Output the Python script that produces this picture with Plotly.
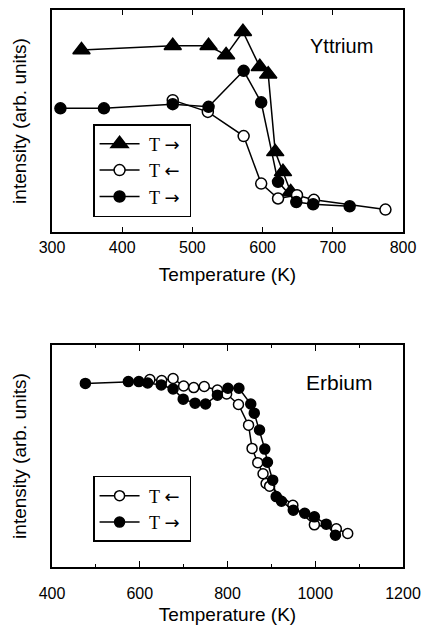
import plotly.graph_objects as go

# ---------------- Yttrium (top) ----------------
y_tri_T = [342, 472, 523, 548, 572, 596, 608, 618, 629, 640]
y_tri_I = [82.0, 83.9, 83.9, 79.7, 90.2, 74.4, 71.1, 36.1, 27.1, 18.0]

y_open_T = [472, 522, 573, 598, 622, 649, 673, 775]
y_open_I = [59.4, 54.1, 43.2, 21.8, 15.1, 16.6, 14.5, 10.1]

y_fill_T = [312, 374, 472, 523, 573, 598, 622, 648, 672, 724]
y_fill_I = [55.7, 55.7, 57.6, 56.4, 72.6, 58.4, 22.6, 13.5, 12.5, 11.6]

# ---------------- Erbium (bottom) ----------------
e_fill_T = [476, 574, 598, 618, 649, 676, 699, 726, 750, 777, 801, 826, 853,
            861, 873, 885, 891, 903, 911, 923, 950, 976, 998, 1025, 1046]
e_fill_I = [82.7, 83.5, 83.5, 82.9, 82.0, 80.2, 75.6, 73.8, 73.4, 77.4, 80.5,
            80.5, 73.4, 69.3, 61.7, 53.1, 47.2, 39.1, 31.7, 29.6, 25.6, 24.2,
            22.6, 19.3, 14.3]

e_open_T = [623, 650, 676, 700, 723, 747, 777, 798, 825, 848, 856, 869, 881,
            888, 896, 949, 998, 1048, 1074]
e_open_I = [84.4, 84.0, 84.9, 81.5, 80.8, 81.3, 79.7, 77.9, 73.2, 63.9, 53.4,
            47.0, 42.0, 37.6, 36.4, 27.8, 19.0, 17.2, 15.1]

arrow_font = "font-family:'DejaVu Sans'"
nb = "\u00a0"
fwd = nb + "T" + nb + "<span style=\"" + arrow_font + "\">\u2192</span>" + nb
back = nb + "T" + nb + "<span style=\"" + arrow_font + "\">\u2190</span>" + nb

fig = go.Figure()

def add(x, y, name, symbol, fill, size, xa, ya, legend):
    fig.add_trace(go.Scatter(
        x=x, y=y, name=name, mode="lines+markers",
        line=dict(color="black", width=1.5),
        marker=dict(symbol=symbol, size=size, color=fill,
                    line=dict(color="black", width=1.5)),
        xaxis=xa, yaxis=ya, legend=legend))

add(y_tri_T, y_tri_I, fwd, "triangle-up", "black", 15, "x", "y", "legend")
add(y_open_T, y_open_I, back, "circle", "white", 11, "x", "y", "legend")
add(y_fill_T, y_fill_I, fwd, "circle", "black", 11, "x", "y", "legend")

add(e_open_T, e_open_I, back, "circle", "white", 10, "x2", "y2", "legend2")
add(e_fill_T, e_fill_I, fwd, "circle", "black", 10, "x2", "y2", "legend2")

sans = "Liberation Sans, Arial, sans-serif"
serif = "Liberation Serif, Times New Roman, serif"

axis_common = dict(showline=True, linecolor="black", linewidth=1.5, mirror="ticks",
                   showgrid=False, zeroline=False, automargin=False)

top_dom = [0.6014, 1.0]
bot_dom = [0.0, 0.3986]

legend_common = dict(xanchor="left", yanchor="top", bgcolor="white",
                     bordercolor="black", borderwidth=1.5,
                     font=dict(family=serif, size=18), tracegroupgap=0,
                     itemwidth=40)

fig.update_layout(
    width=434, height=625,
    margin=dict(l=52, r=31, t=10, b=58, autoexpand=False),
    paper_bgcolor="white", plot_bgcolor="white",
    font=dict(family=sans, color="black"),
    xaxis=dict(axis_common, domain=[0, 1], anchor="y", range=[300, 800], dtick=100,
               ticks="inside", ticklen=5, tickwidth=1.2, tickcolor="black",
               tickfont=dict(size=16),
               title=dict(text="Temperature (K)", font=dict(size=19), standoff=13)),
    yaxis=dict(axis_common, domain=top_dom, anchor="x", range=[0, 100],
               showticklabels=False, ticks="",
               title=dict(text="intensity (arb. units)", font=dict(size=19), standoff=19)),
    xaxis2=dict(axis_common, domain=[0, 1], anchor="y2", range=[400, 1200],
                tickvals=[400, 600, 800, 1000, 1200],
                ticks="inside", ticklen=6, tickwidth=1.2, tickcolor="black",
                ticklabelstandoff=11,
                minor=dict(tickvals=[500, 700, 900, 1100], ticks="inside", ticklen=3,
                           tickcolor="black", tickwidth=1.2),
                tickfont=dict(size=16),
                title=dict(text="Temperature (K)", font=dict(size=19), standoff=9)),
    yaxis2=dict(axis_common, domain=bot_dom, anchor="x2", range=[0, 100],
                showticklabels=False, ticks="",
                title=dict(text="intensity (arb. units)", font=dict(size=19), standoff=19)),
    legend=dict(legend_common, x=0.117, y=0.7953),
    legend2=dict(legend_common, x=0.117, y=0.1634),
    showlegend=True,
    annotations=[
        dict(text="Yttrium", x=0.92, y=0.936, xref="paper", yref="paper",
             xanchor="right", yanchor="middle", showarrow=False,
             font=dict(size=20)),
        dict(text="Erbium", x=0.92, y=0.332, xref="paper", yref="paper",
             xanchor="right", yanchor="middle", showarrow=False,
             font=dict(size=21)),
    ],
)

fig.write_html("out.html")
